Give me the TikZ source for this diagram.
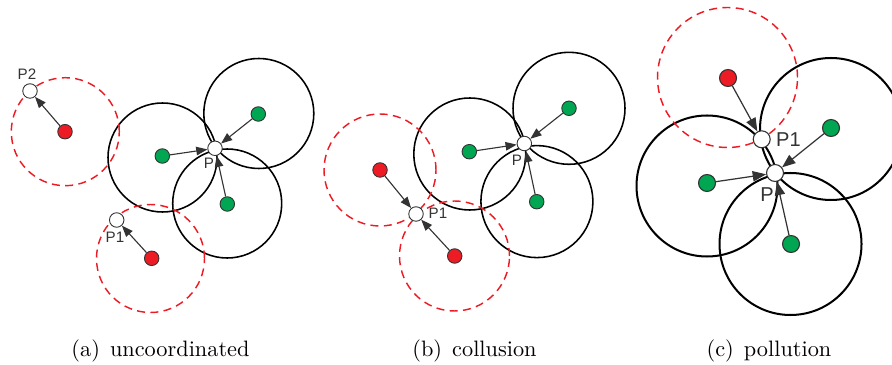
\documentclass[tikz,border=0pt]{standalone}
\usepackage{fontspec}
\setsansfont{Liberation Sans}
\usetikzlibrary{arrows.meta}
\definecolor{nred}{HTML}{ED1C24}
\definecolor{ngreen}{HTML}{00A651}
\definecolor{ngray}{HTML}{333333}
\begin{document}
\begin{tikzpicture}[x=0.4484pt,y=-0.4484pt,
  pnode/.style={circle,draw=ngray,line width=0.4pt,inner sep=0pt,minimum size=6.5pt},
  wnode/.style={pnode,fill=white},
  rnode/.style={pnode,fill=nred},
  gnode/.style={pnode,fill=ngreen},
  bignode/.style={minimum size=7.6pt,line width=0.5pt},
  arr/.style={draw=ngray,line width=0.5pt,-{Triangle[length=5pt,width=3.8pt]}},
  bigarr/.style={draw=ngray,line width=0.55pt,-{Triangle[length=6pt,width=4.6pt]}},
  rng/.style={draw=black,line width=0.7pt},
  bigrng/.style={draw=black,line width=0.9pt},
  drng/.style={draw=nred,line width=0.65pt,dash pattern=on 3.6pt off 2.4pt},
  lbl/.style={font=\sffamily\fontsize{6.8}{8}\selectfont,text=ngray,inner sep=0pt},
  biglbl/.style={font=\sffamily\fontsize{9}{10}\selectfont,text=ngray,inner sep=0pt},
  captext/.style={font=\fontsize{10}{12}\selectfont,anchor=base,inner sep=0pt}]
\useasboundingbox (0,0) rectangle (892,365);

% ---------------- panel (a) ----------------
\draw[rng] (162.5,157.5) circle[radius=54.5*0.4484pt];
\draw[rng] (258.8,113.5) circle[radius=55*0.4484pt];
\draw[rng] (227.2,203.5) circle[radius=54.5*0.4484pt];
\draw[drng] (65.3,131.7) circle[radius=54*0.4484pt];
\draw[drng] (150.5,258.5) circle[radius=54*0.4484pt];
\node[wnode] (aP) at (215,148.3) {};
\node[gnode] (ag1) at (162.3,156) {};
\node[gnode] (ag2) at (258.3,114) {};
\node[gnode] (ag3) at (227.3,204) {};
\node[wnode] (aP2) at (30,91) {};
\node[rnode] (ar1) at (65,131.7) {};
\node[wnode] (aP1) at (116.7,220) {};
\node[rnode] (ar2) at (151.7,258.3) {};
\draw[arr] (ag1) -- (aP);
\draw[arr] (ag2) -- (aP);
\draw[arr] (ag3) -- (aP);
\draw[arr] (ar1) -- (aP2);
\draw[arr] (ar2) -- (aP1);
\node[lbl] (laP) at (209,163.5) {P};
\node[lbl] (laP2) at (27,74.5) {P2};
\node[lbl] (laP1) at (115,237.5) {P1};

% ---------------- panel (b) ----------------
\draw[rng] (469.8,154) circle[radius=56*0.4484pt];
\draw[rng] (569,108.3) circle[radius=56*0.4484pt];
\draw[rng] (536.9,201.6) circle[radius=56*0.4484pt];
\draw[drng] (380,170) circle[radius=56*0.4484pt];
\draw[drng] (454.5,256) circle[radius=55*0.4484pt];
\node[wnode] (bP) at (524.3,143.5) {};
\node[gnode] (bg1) at (469.3,151.7) {};
\node[gnode] (bg2) at (569,108.3) {};
\node[gnode] (bg3) at (536.7,201.7) {};
\node[rnode] (br1) at (380,170) {};
\node[wnode] (bP1) at (416,214) {};
\node[rnode] (br2) at (454.7,256) {};
\draw[arr] (bg1) -- (bP);
\draw[arr] (bg2) -- (bP);
\draw[arr] (bg3) -- (bP);
\draw[arr] (br1) -- (bP1);
\draw[arr] (br2) -- (bP1);
\node[lbl] (lbP) at (517,160.7) {P};
\node[lbl] (lbP1) at (438,213) {P1};

% ---------------- panel (c) ----------------
\draw[bigrng] (707,186) circle[radius=70.5*0.4484pt];
\draw[bigrng] (831,129) circle[radius=71*0.4484pt];
\draw[bigrng] (790.5,244) circle[radius=71*0.4484pt];
\draw[drng] (727.5,77.5) circle[radius=70*0.4484pt];
\node[wnode,bignode] (cP1) at (761.7,139.3) {};
\node[wnode,bignode] (cP) at (775,173) {};
\node[rnode,bignode] (cr1) at (728,78) {};
\node[gnode,bignode] (cg1) at (707,183) {};
\node[gnode,bignode] (cg2) at (831,128) {};
\node[gnode,bignode] (cg3) at (791,244) {};
\draw[bigarr] (cr1) -- (cP1);
\draw[bigarr] (cg1) -- (cP);
\draw[bigarr] (cg2) -- (cP);
\draw[bigarr] (cg3) -- (cP);
\node[biglbl] (lcP1) at (788.5,140) {P1};
\node[biglbl] (lcP) at (767,195) {P};

% ---------------- captions ----------------
\node[captext] (capa) at (160.5,356) {(a)\hspace{4.5pt}uncoordinated};
\node[captext] (capb) at (474.5,356) {(b)\hspace{4.5pt}collusion};
\node[captext] (capc) at (769,356) {(c)\hspace{4.5pt}pollution};
\end{tikzpicture}
\end{document}
